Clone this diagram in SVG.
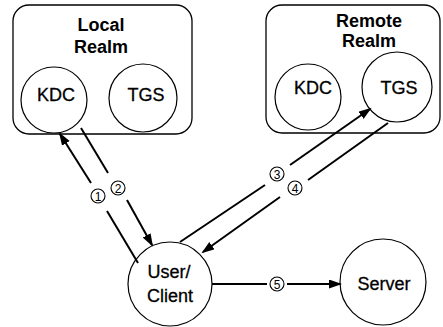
<svg xmlns="http://www.w3.org/2000/svg" width="443" height="327" viewBox="0 0 443 327">
<style>
.box{fill:none;stroke:#000;stroke-width:1.3}
.node{fill:#fff;stroke:#000;stroke-width:1.2}
.lbl{font-family:"Liberation Sans",Arial,sans-serif;font-size:18px;fill:#000;text-anchor:middle;stroke:#000;stroke-width:0.3}
.ttl{font-family:"Liberation Sans",Arial,sans-serif;font-size:18px;font-weight:bold;fill:#000;text-anchor:middle}
.ln{stroke:#000;stroke-width:2;fill:none}
.num circle{fill:#fff;stroke:#000;stroke-width:1.1}
.num text{font-family:"Liberation Sans",Arial,sans-serif;font-size:12px;fill:#000;text-anchor:middle}
</style>
<defs>
<marker id="ah" markerUnits="userSpaceOnUse" markerWidth="14" markerHeight="10" refX="11" refY="4.5" orient="auto">
<path d="M0,0 L13,4.5 L0,9 z" fill="#000"/>
</marker>
</defs>
<g id="local-realm">
<rect class="box" x="13" y="5" width="179" height="129" rx="16"/>
<text class="ttl" x="101" y="31">Local</text>
<text class="ttl" x="101" y="53">Realm</text>
</g>
<g id="local-kdc">
<circle class="node" cx="54" cy="100" r="33"/>
<text class="lbl" x="56" y="101">KDC</text>
</g>
<g id="local-tgs">
<circle class="node" cx="143" cy="98" r="34"/>
<text class="lbl" x="146" y="101">TGS</text>
</g>
<g id="remote-realm">
<rect class="box" x="266" y="5" width="174" height="128" rx="16"/>
<text class="ttl" x="369" y="27">Remote</text>
<text class="ttl" x="369" y="47">Realm</text>
</g>
<g id="remote-kdc">
<circle class="node" cx="308" cy="97" r="33"/>
<text class="lbl" x="313" y="94">KDC</text>
</g>
<g id="remote-tgs">
<circle class="node" cx="397" cy="87" r="35"/>
<text class="lbl" x="399" y="94">TGS</text>
</g>
<g id="user-client">
<circle class="node" cx="170" cy="284" r="42"/>
<text class="lbl" x="169" y="278">User/</text>
<text class="lbl" x="170" y="302">Client</text>
</g>
<g id="server">
<circle class="node" cx="383" cy="282" r="43"/>
<text class="lbl" x="384" y="290">Server</text>
</g>
<g id="connectors">
<line class="ln" x1="138" y1="263" x2="107" y2="211"/>
<line class="ln" x1="91" y1="183" x2="60" y2="134" marker-end="url(#ah)"/>
<line class="ln" x1="81" y1="128" x2="108" y2="173"/>
<line class="ln" x1="127" y1="200" x2="152" y2="245" marker-end="url(#ah)"/>
<line class="ln" x1="180" y1="242" x2="265" y2="185"/>
<line class="ln" x1="290" y1="165" x2="370" y2="109" marker-end="url(#ah)"/>
<line class="ln" x1="388" y1="123" x2="308" y2="180"/>
<line class="ln" x1="280" y1="197" x2="203" y2="252" marker-end="url(#ah)"/>
<line class="ln" x1="212" y1="284" x2="267" y2="284"/>
<line class="ln" x1="287" y1="284" x2="340" y2="284" marker-end="url(#ah)"/>
<g class="num"><circle cx="98" cy="196" r="7"/><text x="98" y="200.5">1</text></g>
<g class="num"><circle cx="118" cy="188" r="7"/><text x="118" y="192.5">2</text></g>
<g class="num"><circle cx="277" cy="174" r="7"/><text x="277" y="178.5">3</text></g>
<g class="num"><circle cx="295" cy="188" r="7"/><text x="295" y="192.5">4</text></g>
<g class="num"><circle cx="277" cy="284" r="7"/><text x="277" y="288.5">5</text></g>
</g>
</svg>
